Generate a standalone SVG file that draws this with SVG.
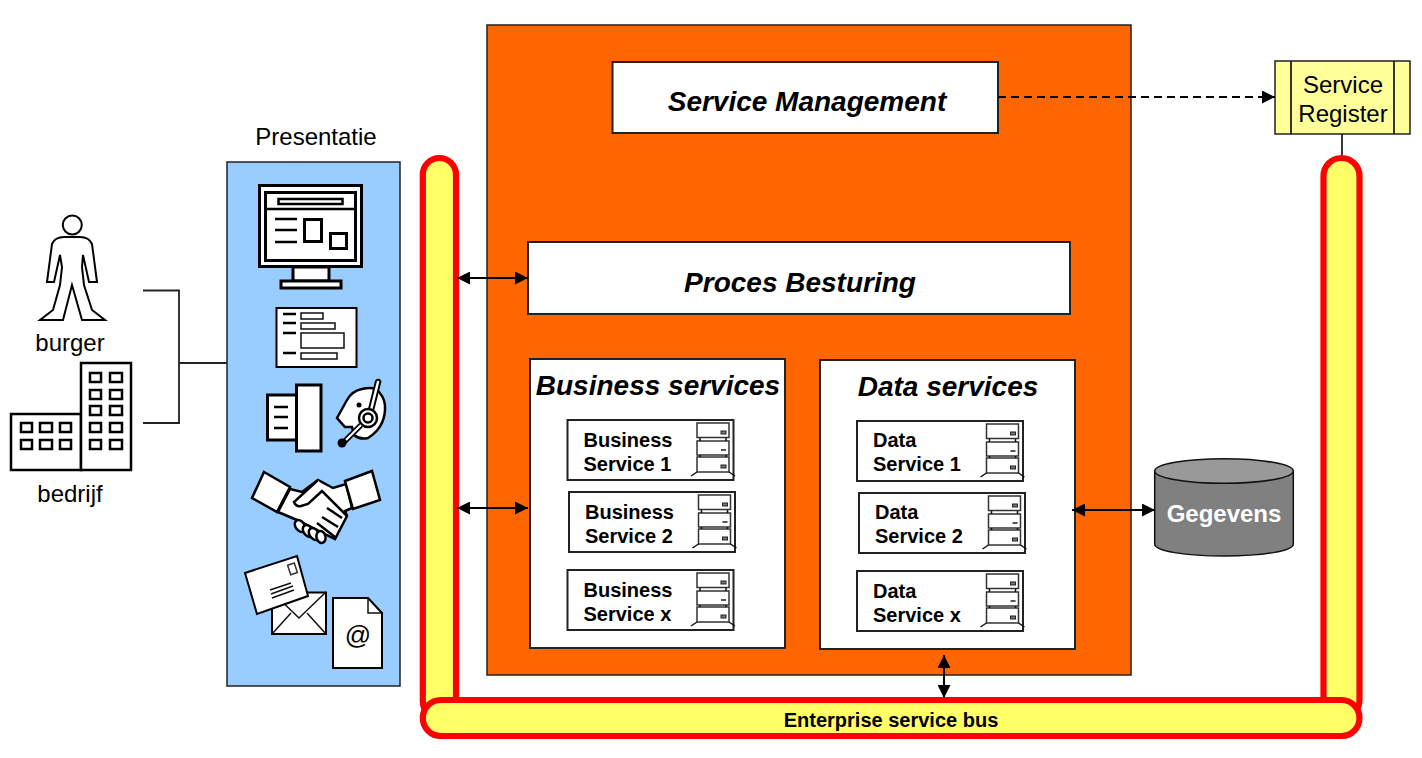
<svg xmlns="http://www.w3.org/2000/svg" width="1422" height="758" viewBox="0 0 1422 758">
<style>
text{font-family:"Liberation Sans",Arial,sans-serif;fill:#000}
.r{font-size:24px}
.bi{font-size:28px;font-weight:bold;font-style:italic;text-anchor:middle}
.b{font-size:20px;font-weight:bold}
.box{fill:#fff;stroke:#222;stroke-width:2}
.ic{fill:#fff;stroke:#000;stroke-width:3}
.ic2{fill:#fff;stroke:#000;stroke-width:2}
.ic3{fill:#fff;stroke:#000;stroke-width:2.500}
.thin{fill:none;stroke:#111;stroke-width:1.500}
.ln{fill:none;stroke:#000;stroke-width:2.500}
.srv{fill:#fff;stroke:#333;stroke-width:1.500}
.pill{fill:#ffff66;stroke:#ff0000;stroke-width:6.200}
.c{fill:none;stroke:#000;stroke-width:2}
.k{fill:none;stroke:#222;stroke-width:1.800}
</style>
<defs>
<marker id="ah" markerUnits="userSpaceOnUse" markerWidth="13" markerHeight="13" refX="13" refY="6.500" orient="auto-start-reverse"><path d="M0 0L13 6.500L0 13Z" fill="#000"/></marker>
<g id="server">
<rect class="srv" x="0" y="0" width="32" height="14.500"/>
<rect class="srv" x="0" y="18" width="32" height="14"/>
<rect class="srv" x="0" y="34" width="32" height="15"/>
<path class="thin" d="M0 49L-6 53M32 49L38 53M3 15V18M29 15V18M3 32V34M29 32V34"/>
<rect x="24" y="8" width="5" height="3" fill="#777" stroke="#222" stroke-width="1"/>
<rect x="24" y="26" width="5" height="2" fill="#555"/>
<rect x="24" y="42" width="5" height="3" fill="#777" stroke="#222" stroke-width="1"/>
</g>
</defs>
<rect width="1422" height="758" fill="#fff"/>

<g id="bus-frame">
<rect class="pill" x="422.800" y="158" width="33.200" height="560" rx="16.600"/>
<rect class="pill" x="1323.500" y="158" width="36" height="560" rx="18"/>
<rect class="pill" x="422.800" y="700" width="936.700" height="36" rx="18"/>
<text class="b" x="891" y="727" text-anchor="middle">Enterprise service bus</text>
</g>

<g id="burger">
<circle cx="72.300" cy="225" r="9.500" class="ic2"/>
<path class="ic2" d="M64 237Q55 237 52 244L47 282H54L60 255L62 267L60 285L53 310L40 320H63L72 285L82 320H105L92 310L84 285L82 267L83 255L89 282H97L92 244Q89 237 80 237Z"/>
<text class="r" x="70" y="351" text-anchor="middle">burger</text>
</g>

<g id="bedrijf">
<rect class="ic3" x="11" y="414" width="70" height="56"/>
<rect class="ic3" x="81" y="363" width="50" height="107"/>
<path class="ic3" d="M21 423h11v9h-11zM40 423h12v9h-12zM60 423h11v9h-11zM21 440h11v9h-11zM40 440h12v9h-12zM60 440h11v9h-11zM90 373h11v9h-11zM110 373h12v9h-12zM90 390h11v9h-11zM110 390h12v9h-12zM90 406h11v9h-11zM110 406h12v9h-12zM90 423h11v9h-11zM110 423h12v9h-12zM90 440h11v9h-11zM110 440h12v9h-12z"/>
<text class="r" x="70" y="502" text-anchor="middle">bedrijf</text>
</g>

<g id="presentatie">
<text class="r" x="316" y="145" text-anchor="middle">Presentatie</text>
<rect x="227" y="162" width="173" height="524" fill="#99ccff" stroke="#222" stroke-width="1.500"/>
<rect class="ic" x="293" y="267" width="36" height="14"/>
<rect class="ic" x="281" y="281" width="60" height="7"/>
<rect class="ic" x="259.500" y="185.500" width="102" height="81"/>
<rect class="ic" x="265.500" y="192.500" width="90" height="68"/>
<path class="ln" d="M265 209H356M275 219H297M275 230H297M275 242H297"/>
<rect class="ic3" x="278.500" y="199" width="64" height="5"/>
<rect class="ic" x="304.500" y="219.500" width="17" height="22"/>
<rect class="ic" x="330.500" y="233.500" width="16" height="15"/>

<rect class="ic2" x="276.500" y="308" width="80" height="59"/>
<path class="ln" d="M283 314H296M283 323H296M283 333H296M283 353H296"/>
<path class="thin" d="M301 313h22v6h-22zM301 323h34v6h-34zM301 333h43v15h-43zM301 353h36v6h-36z"/>

<rect class="ic" x="267.500" y="395" width="29" height="45"/>
<rect class="ic" x="296.500" y="385" width="24.500" height="66"/>
<path class="ln" d="M274 407H288M274 417H288M274 428H288"/>

<path class="ic3" d="M337 418L347 400Q352 391 362 389Q375 386 379 392Q386 400 385 410Q384 428 368 438Q360 440 354 435L352 427L345 427Z"/>
<circle cx="359" cy="405" r="2.500" fill="#000"/>
<path d="M378 382L369 418" stroke="#000" stroke-width="6.500" stroke-linecap="round"/>
<path d="M378 382L369 418" stroke="#fff" stroke-width="2.500" stroke-linecap="round"/>
<circle cx="368" cy="418" r="9" class="ic3"/>
<circle cx="368" cy="418" r="4.500" class="ic3"/>
<path d="M361 425L343 443" stroke="#000" stroke-width="5.500"/>
<path d="M361 425L346 440" stroke="#fff" stroke-width="2.200"/>
<circle cx="342" cy="443" r="4.500" fill="#000"/>

<g id="handshake">
<path class="ic3" d="M290 489L302 492L318 480L333 488L346 484L352 508L345 511L347 516L335 539L297 520L278 512Z"/>
<path class="ic3" d="M318 480L294 502Q296 507 301 506L308 504L322 491L347 516"/>
<path class="ln" d="M327 508L342 518M322 517L338 527M317 523L335 537"/>
<ellipse class="ic3" cx="300" cy="526" rx="4.500" ry="6.500" transform="rotate(-35 300 526)"/>
<ellipse class="ic3" cx="308" cy="531" rx="4.500" ry="6.500" transform="rotate(-35 308 531)"/>
<ellipse class="ic3" cx="314" cy="534" rx="4.500" ry="6.500" transform="rotate(-35 314 534)"/>
<ellipse class="ic3" cx="321" cy="537" rx="4.500" ry="6" transform="rotate(-15 321 537)"/>
<path class="ic3" d="M264 472L290 487L277 512L252 498Z"/>
<path class="ic3" d="M345 481L372 471L380 500L353 509Z"/>
</g>

<g id="mail">
<rect class="ic2" x="272" y="592.500" width="54" height="41.500"/>
<path class="thin" d="M272 592L299 618L326 592M272 634L291 613M326 634L307 613"/>
<path class="ic2" d="M245 573L297 556L308 596L257 614Z"/>
<rect x="289" y="564" width="7" height="10" transform="rotate(-18 292 569)" fill="none" stroke="#333" stroke-width="1.500"/>
<path class="thin" d="M270 590L291 583M271 594L293 586M272 598L294 590"/>
<path class="ic2" d="M333 598H368L382 613V668H333Z"/>
<path class="thin" d="M368 598V613H382"/>
<text x="358" y="644" font-size="26" text-anchor="middle">@</text>
</g>
</g>

<g id="orange-block">
<rect x="487" y="25" width="644" height="650" fill="#ff6600" stroke="#222" stroke-width="1.500"/>
</g>

<g id="service-management">
<rect class="box" x="612.500" y="62" width="385.500" height="71"/>
<text class="bi" x="807" y="111">Service Management</text>
</g>
<g id="proces-besturing">
<rect class="box" x="528" y="242" width="542" height="72"/>
<text class="bi" x="800" y="292">Proces Besturing</text>
</g>

<g id="business-services">
<rect class="box" x="530" y="359" width="255" height="289"/>
<text class="bi" x="658" y="395">Business services</text>
<g id="bs1"><rect class="box" x="567.500" y="420" width="166" height="60"/><text class="b"><tspan x="583.500" y="447">Business</tspan><tspan x="583.500" y="471">Service 1</tspan></text><use href="#server" x="697" y="423"/></g>
<g id="bs2"><rect class="box" x="569" y="492" width="166" height="60"/><text class="b"><tspan x="585" y="519">Business</tspan><tspan x="585" y="543">Service 2</tspan></text><use href="#server" x="698.500" y="495"/></g>
<g id="bsx"><rect class="box" x="567.500" y="570" width="166" height="60"/><text class="b"><tspan x="583.500" y="597">Business</tspan><tspan x="583.500" y="621">Service x</tspan></text><use href="#server" x="697" y="573"/></g>
</g>

<g id="data-services">
<rect class="box" x="820" y="360" width="255" height="289"/>
<text class="bi" x="948" y="396">Data services</text>
<g id="ds1"><rect class="box" x="857" y="421" width="166" height="60"/><text class="b"><tspan x="873" y="447">Data</tspan><tspan x="873" y="471">Service 1</tspan></text><use href="#server" x="986.500" y="424"/></g>
<g id="ds2"><rect class="box" x="859" y="493" width="166" height="60"/><text class="b"><tspan x="875" y="519">Data</tspan><tspan x="875" y="543">Service 2</tspan></text><use href="#server" x="988.500" y="496"/></g>
<g id="dsx"><rect class="box" x="857" y="571" width="166" height="60"/><text class="b"><tspan x="873" y="598">Data</tspan><tspan x="873" y="622">Service x</tspan></text><use href="#server" x="986.500" y="574"/></g>
</g>

<g id="gegevens">
<path d="M1154.700 471V544C1154.700 551 1185 556 1224 556C1263 556 1293.300 551 1293.300 544V471Z" fill="#808080" stroke="#111" stroke-width="1.500"/>
<ellipse cx="1224" cy="471" rx="69.300" ry="12.300" fill="#999999" stroke="#111" stroke-width="1.500"/>
<text x="1224" y="522" font-size="24" font-weight="bold" text-anchor="middle" style="fill:#fff">Gegevens</text>
</g>

<g id="service-register">
<rect x="1275" y="61" width="135" height="73" fill="#ffff99" stroke="#222" stroke-width="1.500"/>
<path class="k" d="M1291 61V134M1394 61V134"/>
<text class="r" text-anchor="middle"><tspan x="1343" y="93">Service</tspan><tspan x="1343" y="122">Register</tspan></text>
</g>

<g id="connectors">
<path class="k" d="M143 290.500H179V423H143M179 363H227"/>
<path class="k" d="M1342 134V155"/>
<path class="c" d="M457 278H528" marker-start="url(#ah)" marker-end="url(#ah)"/>
<path class="c" d="M457 508H528" marker-start="url(#ah)" marker-end="url(#ah)"/>
<path class="c" d="M998 97H1275" stroke-dasharray="8 5" marker-end="url(#ah)"/>
<path class="c" d="M1072 510H1155" marker-start="url(#ah)" marker-end="url(#ah)"/>
<path class="c" d="M944 655V698" marker-start="url(#ah)" marker-end="url(#ah)"/>
</g>
</svg>
